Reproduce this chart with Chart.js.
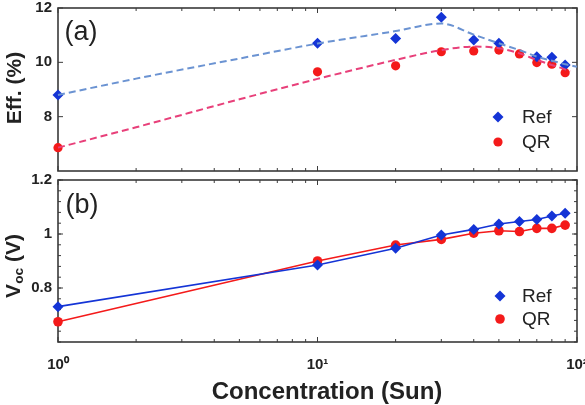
<!DOCTYPE html>
<html><head><meta charset="utf-8">
<script src="https://cdn.jsdelivr.net/npm/chart.js@4/dist/chart.umd.min.js"></script>
<style>
html,body{margin:0;padding:0;background:#fff;}
#wrap{position:relative;width:585px;height:405px;overflow:hidden;font-family:"Liberation Sans",Arial,sans-serif;color:#222;}
canvas{position:absolute;left:0;top:0;}
.t{position:absolute;white-space:nowrap;line-height:1;transform:translate(-50%,-50%);}
.r{transform:translate(-50%,-50%) rotate(-90deg);}
.b{font-weight:bold;}
sub{font-size:65%;vertical-align:-0.25em;}
</style></head><body>
<div id="wrap">
<canvas id="c1" width="585" height="405"></canvas>
<canvas id="c2" width="585" height="405"></canvas>
<div class="t r b" style="left:13px;top:88px;font-size:21px;">Eff. (%)</div>
<div class="t r b" style="left:14px;top:266px;font-size:21px;">V<sub>oc</sub> (V)</div>
<div class="t b" style="left:327px;top:391px;font-size:24px;">Concentration (Sun)</div>
<div class="t" style="left:81px;top:31px;font-size:27px;">(a)</div>
<div class="t" style="left:82px;top:204px;font-size:27px;">(b)</div>
</div>
<script>
// ---- data ----
const conc = [1, 10, 20, 30, 40, 50, 60, 70, 80, 90];
const effRef = [8.80, 10.70, 10.88, 11.66, 10.82, 10.70, null, 10.21, 10.19, 9.90];
const effQR = [6.86, 9.65, 9.87, 10.39, 10.42, 10.45, 10.31, 9.99, 9.93, 9.62];
const fitConcRef = [1, 2, 5, 10, 20, 30, 40, 50, 60, 70, 80, 90, 100];
const fitEffRef = [8.80, 9.40, 10.14, 10.69, 11.15, 11.43, 11.02, 10.70, 10.45, 10.21, 10.06, 9.93, 9.84];
const fitConcQR = [1, 2, 5, 10, 20, 30, 40, 50, 60, 70, 80, 90, 94];
const fitEffQR = [6.86, 7.61, 8.64, 9.39, 10.09, 10.45, 10.58, 10.52, 10.33, 10.09, 9.90, 9.74, 9.66];
const vocRef = [0.731, 0.885, 0.947, 0.996, 1.017, 1.037, 1.046, 1.054, 1.067, 1.077];
const vocQR = [0.675, 0.900, 0.959, 0.980, 1.003, 1.012, 1.009, 1.021, 1.021, 1.033];
const seriesNames = ['Ref', 'QR'];
const effTicks = [8, 10, 12];
const vocTicks = [0.8, 1, 1.2];
const xTickValues = [1, 10, 100];
const xTickLabels = ['10\u2070', '10\u00B9', '10\u00B2'];

const FONT = '"Liberation Sans", Arial, sans-serif';
const BLUE = '#1434d6', RED = '#f41a1a';
const pts = (xs, ys) => xs.map((x, i) => ({x, y: ys[i]}));

const frameTicks = {
  id: 'frameTicks',
  beforeDatasetsDraw(chart, args, o) {
    const {ctx, chartArea: a, scales: {x, y}} = chart;
    ctx.save();
    ctx.strokeStyle = '#3c3c3c';
    ctx.lineWidth = 1;
    ctx.beginPath();
    for (let d = 1; d < 100; d *= 10) {
      for (let k = 1; k <= 10; k++) {
        const v = d * k;
        const px = x.getPixelForValue(v);
        const len = (k === 1 || k === 10) ? 5 : 3;
        ctx.moveTo(px, a.bottom); ctx.lineTo(px, a.bottom - len);
        ctx.moveTo(px, a.top); ctx.lineTo(px, a.top + len);
      }
    }
    const ticks = o.yTicks;
    const yMin = y.min, yMax = y.max;
    if (o.minorStep) {
      const n = Math.round((yMax - yMin) / o.minorStep);
      for (let i = 0; i <= n; i++) {
        const py = y.getPixelForValue(yMin + i * o.minorStep);
        ctx.moveTo(a.left, py); ctx.lineTo(a.left + 3, py);
        ctx.moveTo(a.right, py); ctx.lineTo(a.right - 3, py);
      }
    }
    ticks.forEach(v => {
      const py = y.getPixelForValue(v);
      ctx.moveTo(a.left, py); ctx.lineTo(a.left + 5, py);
      ctx.moveTo(a.right, py); ctx.lineTo(a.right - 5, py);
    });
    ctx.stroke();
    ctx.lineWidth = 1.6;
    ctx.strokeStyle = '#3a3a3a';
    ctx.strokeRect(a.left, a.top, a.right - a.left, a.bottom - a.top);
    ctx.restore();
  }
};

const inLegend = {
  id: 'inLegend',
  afterDatasetsDraw(chart, args, o) {
    const ctx = chart.ctx;
    ctx.save();
    o.items.forEach((it, i) => {
      const ds = chart.data.datasets[it];
      const y = o.y + i * o.dy;
      ctx.fillStyle = ds.pointBackgroundColor;
      ctx.strokeStyle = ds.pointBackgroundColor;
      Chart.helpers.drawPoint(ctx, {pointStyle: ds.pointStyle, radius: ds.pointRadius, rotation: 0, borderWidth: 0}, o.x, y);
      ctx.fillStyle = '#222';
      ctx.font = '19px ' + FONT;
      ctx.textBaseline = 'middle';
      ctx.textAlign = 'left';
      ctx.fillText(ds.label, o.tx, y + 1);
    });
    ctx.restore();
  }
};

function fixPad(s) { s.paddingLeft = 0; s.paddingRight = 0; s.paddingTop = 0; s.paddingBottom = 0; }

function xScale(show) {
  return {
    type: 'logarithmic', min: 1, max: 100, display: show,
    grid: {display: false, drawTicks: false}, border: {display: false},
    afterBuildTicks: s => { s.ticks = xTickValues.map(v => ({value: v})); },
    ticks: {
      autoSkip: false, maxRotation: 0, padding: 14, color: '#222',
      font: {family: FONT, size: 15, weight: 'bold'},
      callback: (v, i) => xTickLabels[i]
    },
    afterFit: s => { s.height = show ? 63 : 0; fixPad(s); }
  };
}
function yScale(min, max, tickVals) {
  return {
    type: 'linear', min, max,
    grid: {display: false, drawTicks: false}, border: {display: false},
    afterBuildTicks: s => { s.ticks = tickVals.map(v => ({value: v})); },
    ticks: {padding: 6, color: '#222', font: {family: FONT, size: 15, weight: 'bold'},
      callback: v => String(v)},
    afterFit: s => { s.width = 58; fixPad(s); }
  };
}

const common = {
  responsive: false, animation: false, events: [],
  plugins: {legend: {display: false}, tooltip: {enabled: false}}
};

new Chart(document.getElementById('c1'), {
  type: 'scatter',
  data: {datasets: [
    {label: 'Ref fit', data: pts(fitConcRef, fitEffRef), showLine: true, borderColor: '#6b93d2', borderWidth: 2, borderDash: [7, 4], pointRadius: 0, cubicInterpolationMode: 'monotone', clip: false},
    {label: 'QR fit', data: pts(fitConcQR, fitEffQR), showLine: true, borderColor: '#e8407a', borderWidth: 2, borderDash: [7, 4], pointRadius: 0, cubicInterpolationMode: 'monotone', clip: false},
    {label: seriesNames[0], data: pts(conc, effRef), pointStyle: 'rectRot', pointRadius: 5.5, pointBackgroundColor: BLUE, pointBorderColor: BLUE, pointBorderWidth: 0, clip: false},
    {label: seriesNames[1], data: pts(conc, effQR), pointStyle: 'circle', pointRadius: 4.6, pointBackgroundColor: RED, pointBorderColor: RED, pointBorderWidth: 0, clip: false}
  ]},
  options: Object.assign({}, common, {
    layout: {padding: {left: 0, right: 8, top: 8, bottom: 234}},
    scales: {x: xScale(false), y: yScale(6, 12, effTicks)},
    plugins: Object.assign({}, common.plugins, {
      frameTicks: {yTicks: effTicks, minorStep: 0},
      inLegend: {items: [2, 3], x: 498, tx: 522, y: 117, dy: 25}
    })
  }),
  plugins: [frameTicks, inLegend]
});

new Chart(document.getElementById('c2'), {
  type: 'scatter',
  data: {datasets: [
    {label: seriesNames[0], data: pts(conc, vocRef), showLine: true, borderColor: BLUE, borderWidth: 1.6, pointStyle: 'rectRot', pointRadius: 5.5, pointBackgroundColor: BLUE, pointBorderColor: BLUE, pointBorderWidth: 0, clip: false},
    {label: seriesNames[1], data: pts(conc, vocQR), showLine: true, borderColor: RED, borderWidth: 1.6, pointStyle: 'circle', pointRadius: 4.8, pointBackgroundColor: RED, pointBorderColor: RED, pointBorderWidth: 0, clip: false}
  ]},
  options: Object.assign({}, common, {
    layout: {padding: {left: 0, right: 8, top: 180, bottom: 0}},
    scales: {x: xScale(true), y: yScale(0.6, 1.2, vocTicks)},
    plugins: Object.assign({}, common.plugins, {
      frameTicks: {yTicks: vocTicks, minorStep: 0.04},
      inLegend: {items: [0, 1], x: 500, tx: 522, y: 296, dy: 23}
    })
  }),
  plugins: [frameTicks, inLegend]
});
</script>
</body></html>
